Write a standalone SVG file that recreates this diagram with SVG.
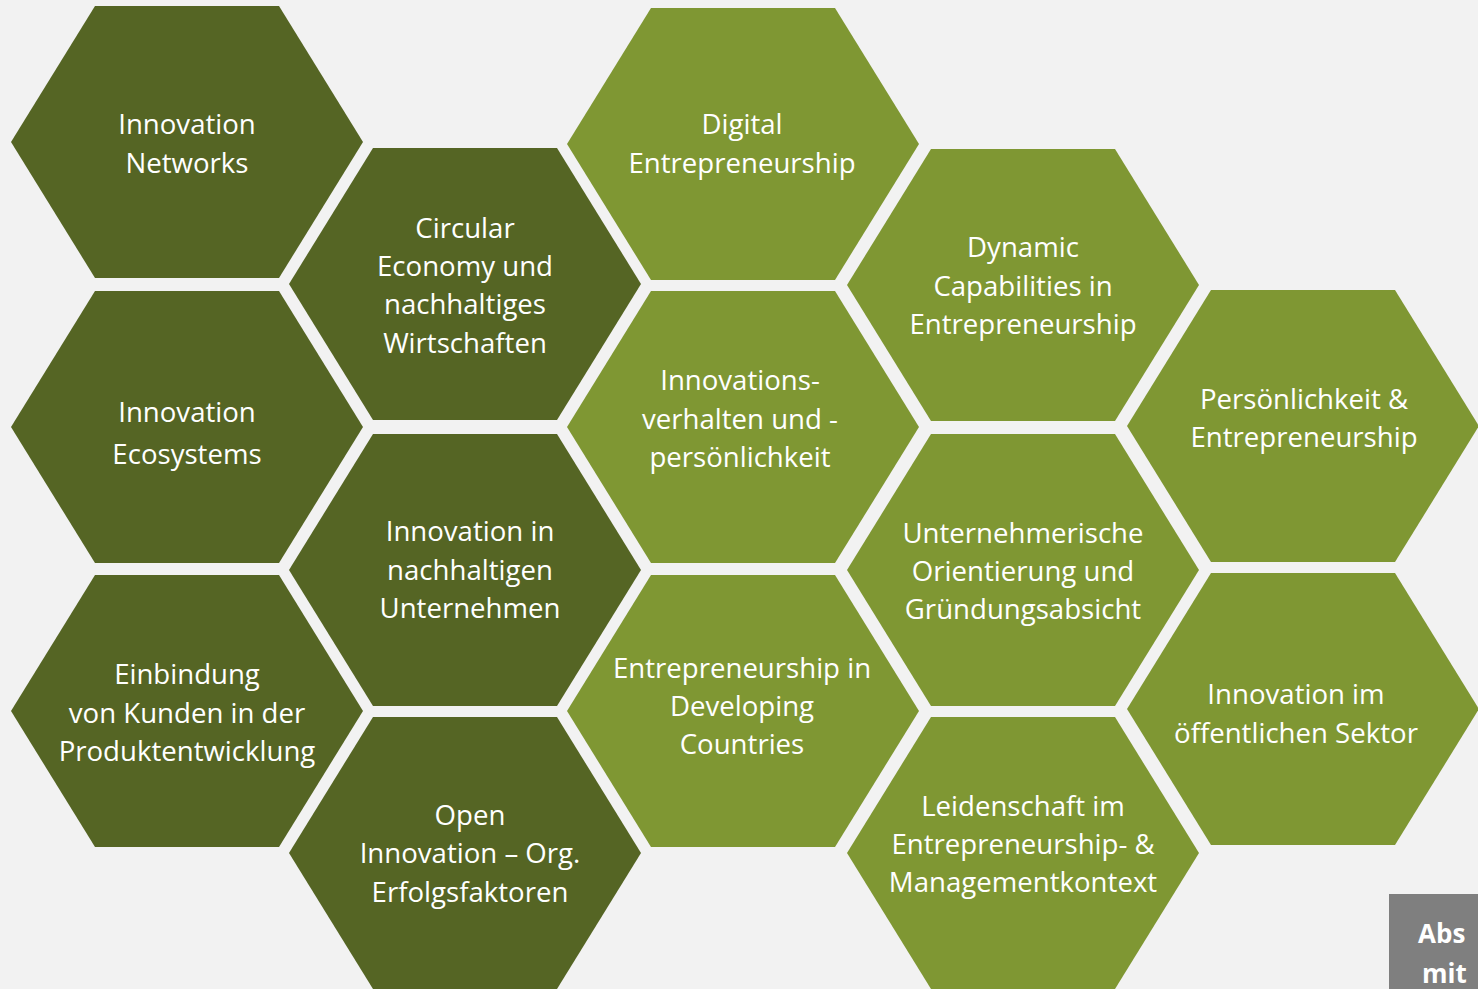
<svg xmlns="http://www.w3.org/2000/svg" xmlns:xlink="http://www.w3.org/1999/xlink" width="1478" height="989" viewBox="0 0 1478 989">
<style>
.dark{fill:#556524}
.light{fill:#7F9733}
.t{font-family:"Open Sans",Lato,"Liberation Sans",sans-serif;font-size:27.6px;fill:#FFFFFF;text-anchor:middle}
.b{font-family:"Open Sans","Liberation Sans",sans-serif;font-size:26px;font-weight:bold;fill:#FFFFFF}
</style>
<defs>
<polygon id="hex" points="-176,0 -92,-136 92,-136 176,0 92,136 -92,136"/>
</defs>
<rect x="0" y="0" width="1478" height="989" fill="#F2F2F2"/>
<g id="connectors"/>
<g id="n1"><use xlink:href="#hex" class="dark" transform="translate(187,142)"/><text class="t" x="187"><tspan x="187" y="134">Innovation</tspan><tspan x="187" y="173">Networks</tspan></text></g>
<g id="n2"><use xlink:href="#hex" class="dark" transform="translate(465,284)"/><text class="t"><tspan x="465" y="238">Circular</tspan><tspan x="465" y="276">Economy und</tspan><tspan x="465" y="314">nachhaltiges</tspan><tspan x="465" y="353">Wirtschaften</tspan></text></g>
<g id="n3"><use xlink:href="#hex" class="light" transform="translate(743,144)"/><text class="t"><tspan x="742" y="134">Digital</tspan><tspan x="742" y="173">Entrepreneurship</tspan></text></g>
<g id="n4"><use xlink:href="#hex" class="light" transform="translate(1023,285)"/><text class="t"><tspan x="1023" y="257">Dynamic</tspan><tspan x="1023" y="296">Capabilities in</tspan><tspan x="1023" y="334">Entrepreneurship</tspan></text></g>
<g id="n5"><use xlink:href="#hex" class="dark" transform="translate(187,427)"/><text class="t"><tspan x="187" y="422">Innovation</tspan><tspan x="187" y="464">Ecosystems</tspan></text></g>
<g id="n6"><use xlink:href="#hex" class="dark" transform="translate(465,570)"/><text class="t"><tspan x="470" y="541">Innovation in</tspan><tspan x="470" y="580">nachhaltigen</tspan><tspan x="470" y="618">Unternehmen</tspan></text></g>
<g id="n7"><use xlink:href="#hex" class="light" transform="translate(743,427)"/><text class="t"><tspan x="740" y="390">Innovations-</tspan><tspan x="740" y="429">verhalten und -</tspan><tspan x="740" y="467">persönlichkeit</tspan></text></g>
<g id="n8"><use xlink:href="#hex" class="light" transform="translate(1303,426)"/><text class="t"><tspan x="1304" y="409">Persönlichkeit &amp;</tspan><tspan x="1304" y="447">Entrepreneurship</tspan></text></g>
<g id="n9"><use xlink:href="#hex" class="dark" transform="translate(187,711)"/><text class="t"><tspan x="187" y="684">Einbindung</tspan><tspan x="187" y="723">von Kunden in der</tspan><tspan x="187" y="761">Produktentwicklung</tspan></text></g>
<g id="n10"><use xlink:href="#hex" class="light" transform="translate(1023,570)"/><text class="t"><tspan x="1023" y="543">Unternehmerische</tspan><tspan x="1023" y="581">Orientierung und</tspan><tspan x="1023" y="619">Gründungsabsicht</tspan></text></g>
<g id="n11"><use xlink:href="#hex" class="light" transform="translate(743,711)"/><text class="t"><tspan x="742" y="678">Entrepreneurship in</tspan><tspan x="742" y="716">Developing</tspan><tspan x="742" y="754">Countries</tspan></text></g>
<g id="n12"><use xlink:href="#hex" class="light" transform="translate(1303,709)"/><text class="t"><tspan x="1296" y="704">Innovation im</tspan><tspan x="1296" y="743">öffentlichen Sektor</tspan></text></g>
<g id="n13"><use xlink:href="#hex" class="dark" transform="translate(465,853)"/><text class="t"><tspan x="470" y="825">Open</tspan><tspan x="470" y="863">Innovation – Org.</tspan><tspan x="470" y="902">Erfolgsfaktoren</tspan></text></g>
<g id="n14"><use xlink:href="#hex" class="light" transform="translate(1023,853)"/><text class="t"><tspan x="1023" y="816">Leidenschaft im</tspan><tspan x="1023" y="854">Entrepreneurship- &amp;</tspan><tspan x="1023" y="892">Managementkontext</tspan></text></g>
<g id="n15"><rect x="1389" y="894" width="89" height="95" fill="#7F7F7F"/><text class="b"><tspan x="1418" y="943">Abs</tspan><tspan x="1422" y="983">mit</tspan></text></g>
</svg>
